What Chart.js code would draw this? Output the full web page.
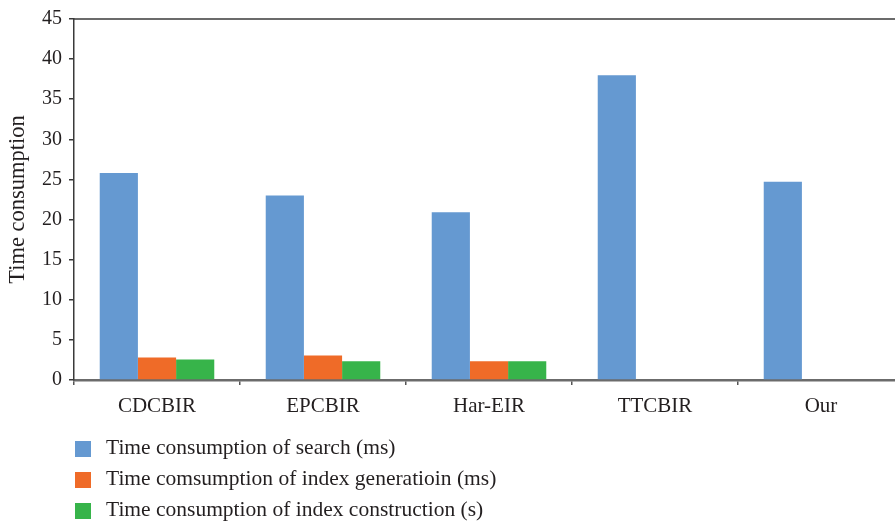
<!DOCTYPE html>
<html>
<head>
<meta charset="utf-8">
<script src="https://cdn.jsdelivr.net/npm/chart.js@4"></script>
<style>
  html, body { margin: 0; padding: 0; background: #fff; overflow: hidden; }
  #wrap { width: 904px; height: 525px; }
</style>
</head>
<body>
<div id="wrap"><canvas id="chart"></canvas></div>
<script>
const categories = ["CDCBIR", "EPCBIR", "Har-EIR", "TTCBIR", "Our"];
const searchMs = [25.8, 23.0, 20.9, 38.0, 24.7];
const indexGenMs = [2.8, 3.05, 2.35, null, null];
const indexBuildS = [2.55, 2.35, 2.35, null, null];
const yTicks = [0, 5, 10, 15, 20, 25, 30, 35, 40, 45];

const FONT = "'Liberation Serif', 'DejaVu Serif', serif";
const TEXT = "#231f20";

// legend stacked down the left, one row per series
const stackedLegend = {
  id: "stackedLegend",
  afterDraw(chart) {
    const ctx = chart.ctx;
    ctx.save();
    ctx.font = "21.5px " + FONT;
    ctx.textBaseline = "middle";
    ctx.textAlign = "left";
    chart.data.datasets.forEach((ds, i) => {
      const cy = 449 + i * 31;
      ctx.fillStyle = ds.backgroundColor;
      ctx.fillRect(75, cy - 8, 16, 16);
      ctx.fillStyle = TEXT;
      ctx.fillText(ds.label, 106, cy - 1);
    });
    // top frame line
    const a = chart.chartArea;
    ctx.strokeStyle = "#3a3a3a";
    ctx.lineWidth = 1.5;
    ctx.beginPath();
    ctx.moveTo(a.left, a.top);
    ctx.lineTo(chart.width, a.top);
    ctx.stroke();
    ctx.restore();
  }
};

new Chart(document.getElementById("chart"), {
  type: "bar",
  data: {
    labels: categories,
    datasets: [
      { label: "Time consumption of search (ms)", data: searchMs, backgroundColor: "#6599d1" },
      { label: "Time comsumption of index generatioin (ms)", data: indexGenMs, backgroundColor: "#ef6b28" },
      { label: "Time consumption of index construction (s)", data: indexBuildS, backgroundColor: "#37b44a" }
    ]
  },
  options: {
    responsive: true,
    maintainAspectRatio: false,
    animation: false,
    layout: { padding: { top: 14, right: 0, bottom: 0, left: 0 } },
    datasets: { bar: { categoryPercentage: 0.69, barPercentage: 1.0 } },
    plugins: {
      legend: { display: false },
      tooltip: { enabled: false }
    },
    scales: {
      x: {
        z: 1,
        grid: { display: true, drawOnChartArea: false, drawTicks: true, tickLength: 5, color: "#555", lineWidth: 1.5 },
        border: { display: true, color: "rgba(70,70,70,0.8)", width: 2.5 },
        ticks: { color: TEXT, font: { family: FONT, size: 21 }, padding: 9, maxRotation: 0 },
        afterFit(scale) { scale.height = 145; }
      },
      y: {
        min: 0,
        max: 45,
        afterBuildTicks(scale) { scale.ticks = yTicks.map(v => ({ value: v })); },
        grid: { display: true, drawOnChartArea: false, drawTicks: true, tickLength: 5, color: "#3a3a3a", lineWidth: 1.5 },
        border: { display: true, color: "#3a3a3a", width: 1.5 },
        ticks: { color: TEXT, font: { family: FONT, size: 20 }, padding: 7 },
        title: {
          display: true,
          text: "Time consumption",
          color: TEXT,
          font: { family: FONT, size: 22.5 },
          padding: { top: 5, bottom: 0 }
        },
        afterFit(scale) { scale.width = 74; }
      }
    }
  },
  plugins: [stackedLegend]
});
</script>
</body>
</html>
